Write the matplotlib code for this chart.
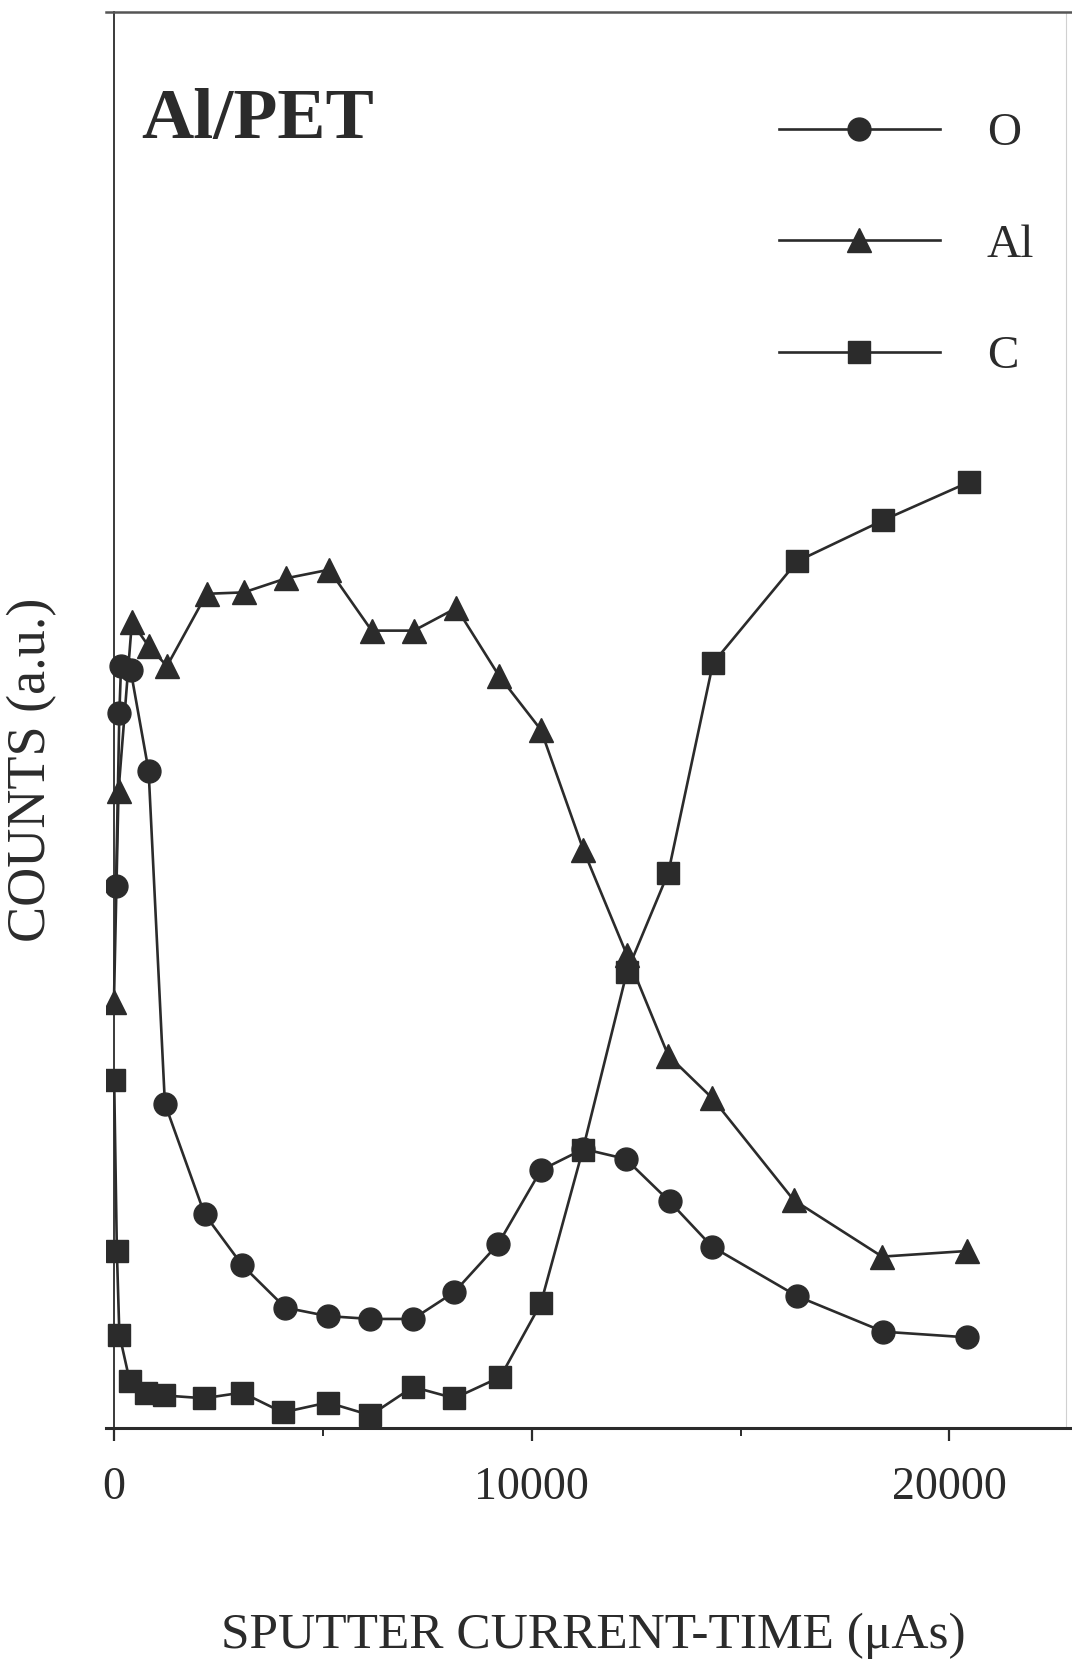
import matplotlib
matplotlib.use("Agg")
import matplotlib.pyplot as plt
from matplotlib.ticker import FixedLocator

# ---- data ----
o_x = [50, 130, 170, 400, 830, 1220, 2170, 3070, 4100, 5120, 6140, 7160, 8150,
       9200, 10220, 11240, 12250, 13300, 14320, 16360, 18420, 20430]
o_y = [38.3, 50.5, 53.8, 53.5, 46.4, 22.9, 15.1, 11.5, 8.5, 7.9, 7.7, 7.7, 9.6,
       13.0, 18.2, 19.7, 19.0, 16.0, 12.8, 9.3, 6.8, 6.4]

al_x = [0, 110, 430, 830, 1270, 2220, 3110, 4130, 5150, 6170, 7180, 8200, 9220,
        10220, 11240, 12280, 13270, 14320, 16270, 18390, 20430]
al_y = [30.1, 45.0, 56.9, 55.2, 53.8, 58.9, 59.0, 60.0, 60.6, 56.3, 56.3, 57.9, 53.1,
        49.3, 40.8, 33.4, 26.3, 23.3, 16.1, 12.1, 12.5]

c_x = [5, 70, 130, 380, 760, 1200, 2150, 3070, 4040, 5120, 6140, 7160, 8150, 9250,
       10220, 11220, 12280, 13270, 14340, 16360, 18420, 20480]
c_y = [24.6, 12.5, 6.6, 3.3, 2.5, 2.3, 2.1, 2.5, 1.1, 1.8, 0.9, 2.9, 2.1, 3.6,
       8.8, 19.6, 32.2, 39.2, 54.0, 61.2, 64.1, 66.8]

series_names = ["O", "Al", "C"]
x_major = [0, 10000, 20000]
x_major_labels = ["0", "10000", "20000"]
x_minor = [5000, 15000]

title_text = "Al/PET"
xlabel_text = "SPUTTER CURRENT-TIME (\u03bcAs)"
ylabel_text = "COUNTS (a.u.)"

# ---- figure ----
W, H = 1072, 1666
fig = plt.figure(figsize=(W / 100, H / 100), dpi=100)
plt.rcParams['font.family'] = ['Liberation Serif', 'DejaVu Serif']

ax_l, ax_r, ax_b, ax_t = 106, 1072, 1428, 11.7
ax = fig.add_axes([ax_l / W, 1 - ax_b / H, (ax_r - ax_l) / W, (ax_b - ax_t) / H])

ink = "#2b2b2b"
lw = 1.9
ax.plot(o_x, o_y, marker="o", ms=16.5, color=ink, lw=lw, label=series_names[0], zorder=3)
ax.plot(al_x, al_y, marker="^", ms=17.5, color=ink, lw=lw, label=series_names[1], zorder=3)
ax.plot(c_x, c_y, marker="s", ms=15.5, color=ink, lw=lw, label=series_names[2], zorder=4)

ax.set_xlim(-190, 22935)
ax.set_ylim(0, 100)

ax.spines['left'].set_position(('data', 0))
ax.spines['left'].set_color(ink)
ax.spines['left'].set_linewidth(1.3)
ax.spines['bottom'].set_color(ink)
ax.spines['bottom'].set_linewidth(2.2)
ax.spines['top'].set_color("#555555")
ax.spines['top'].set_linewidth(1.8)
ax.spines['right'].set_visible(False)
ax.axvline(22790, color="#d0d0d0", lw=0.8, zorder=0)

ax.xaxis.set_major_locator(FixedLocator(x_major))
ax.set_xticklabels(x_major_labels)
ax.xaxis.set_minor_locator(FixedLocator(x_minor))
ax.tick_params(axis='x', which='major', direction='out', length=9, width=1.6,
               color=ink, pad=19, labelsize=33, labelcolor=ink)
ax.tick_params(axis='x', which='minor', direction='out', length=6, width=1.4, color=ink)
ax.set_yticks([])

ax.set_xlabel(xlabel_text, fontsize=37, color=ink)
ax.xaxis.label.set_va('center')
ax.xaxis.set_label_coords((593 - ax_l) / (ax_r - ax_l), (ax_b - 1636) / (ax_b - ax_t))
ax.set_ylabel(ylabel_text, fontsize=39, color=ink)
ax.yaxis.label.set_va('center')
ax.yaxis.set_label_coords((32 - ax_l) / (ax_r - ax_l), (ax_b - 770) / (ax_b - ax_t))

ax.text((258 - ax_l) / (ax_r - ax_l), (ax_b - 121) / (ax_b - ax_t), title_text,
        transform=ax.transAxes, ha='center', va='center', fontsize=52,
        fontweight='bold', color=ink)

leg = ax.legend(loc='upper left', bbox_to_anchor=(779 / W, 1 - 112 / H),
                bbox_transform=fig.transFigure, frameon=False, fontsize=34,
                handlelength=3.4, handletextpad=1.0, labelspacing=1.45,
                borderpad=0, borderaxespad=0)
for t in leg.get_texts():
    t.set_color(ink)

fig.savefig("out.png", dpi=100, facecolor="white")
